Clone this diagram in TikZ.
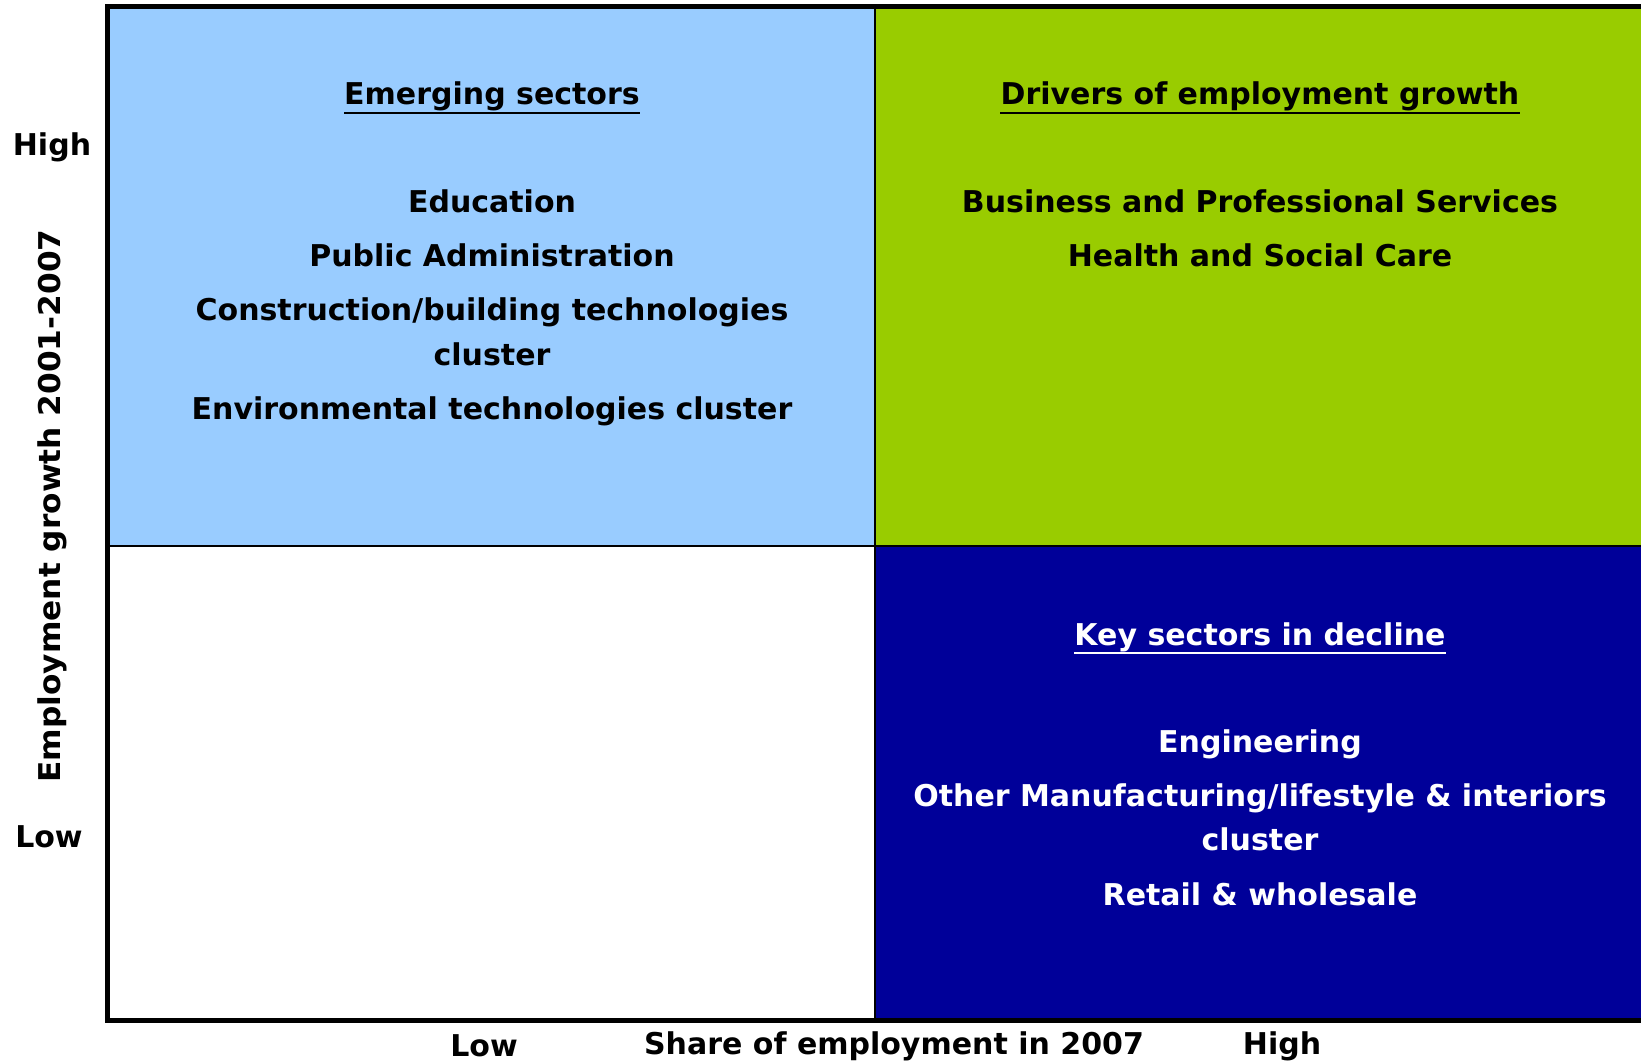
\documentclass[tikz,border=0pt]{standalone}
\usepackage{fontspec}
\setmainfont{DejaVu Sans}
\definecolor{lblue}{HTML}{99CCFF}
\definecolor{lgreen}{HTML}{99CC00}
\definecolor{dblue}{HTML}{000099}
\begin{document}
\begin{tikzpicture}[x=1pt,y=-1pt,
  txt/.style={font=\fontsize{30}{36}\selectfont\bfseries, inner sep=0pt, align=center},
  head/.style={txt},
  uline/.style={line width=2.5pt}]
\useasboundingbox (0,0) rectangle (1641,1064);
% quadrants
\fill[lblue] (107,7) rectangle (875,546);
\fill[lgreen] (875,7) rectangle (1641,546);
\fill[dblue] (875,546) rectangle (1641,1020);
\draw[line width=2pt] (875,7) -- (875,1020);
\draw[line width=2pt] (107,546) -- (1641,546);
\draw[line width=5pt] (1641,7) -- (107,7) -- (107,1020) -- (1641,1020);
% top left
\node[head, anchor=base] (h1) at (492,105) {Emerging sectors};
\draw[uline] ([yshift=-8pt]h1.base west) -- ([yshift=-8pt]h1.base east);
\node[txt, anchor=base] (a1) at (492,213) {Education};
\node[txt, anchor=base] (a2) at (492,267) {Public Administration};
\node[txt, anchor=base] (a3) at (492,321) {Construction/building technologies};
\node[txt, anchor=base] (a4) at (492,366) {cluster};
\node[txt, anchor=base] (a5) at (492,419) {Environmental technologies cluster};
% top right
\node[head, anchor=base] (h2) at (1260,105) {Drivers of employment growth};
\draw[uline] ([yshift=-8pt]h2.base west) -- ([yshift=-8pt]h2.base east);
\node[txt, anchor=base] (b1) at (1260,213) {Business and Professional Services};
\node[txt, anchor=base] (b2) at (1260,267) {Health and Social Care};
% bottom right
\node[head, anchor=base, text=white] (h3) at (1260,645) {Key sectors in decline};
\draw[uline, white] ([yshift=-8pt]h3.base west) -- ([yshift=-8pt]h3.base east);
\node[txt, anchor=base, text=white] (c1) at (1260,752) {Engineering};
\node[txt, anchor=base, text=white] (c2) at (1260,806) {Other Manufacturing/lifestyle \& interiors};
\node[txt, anchor=base, text=white] (c3) at (1260,850) {cluster};
\node[txt, anchor=base, text=white] (c4) at (1260,905) {Retail \& wholesale};
% axes labels
\node[txt] (yh) at (52,147) {High};
\node[txt] (yl) at (49,837) {Low};
\node[txt, rotate=90, xscale=1.04] (ylab) at (52,506) {Employment growth 2001-2007};
\node[txt] (xl) at (484,1046) {Low};
\node[txt] (xlab) at (894,1046) {Share of employment in 2007};
\node[txt] (xh) at (1282,1046) {High};
\end{tikzpicture}
\end{document}
